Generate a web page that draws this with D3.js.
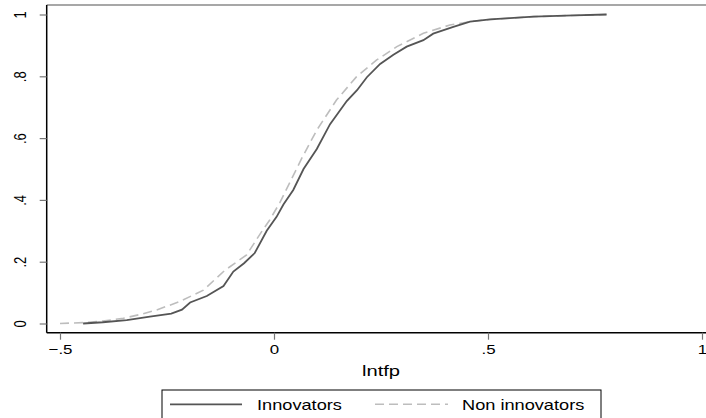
<!DOCTYPE html>
<html>
<head>
<meta charset="utf-8">
<script src="https://cdn.jsdelivr.net/npm/d3@7"></script>
<style>
  body { margin: 0; background: #fff; }
  svg { display: block; font-family: "Liberation Sans", Arial, sans-serif; }
</style>
</head>
<body>
<svg id="chart" width="706" height="418"></svg>
<script>
const innovators = [
  [-0.446, 0], [-0.40, 0.004], [-0.344, 0.011], [-0.29, 0.022], [-0.24, 0.032],
  [-0.215, 0.045], [-0.196, 0.068], [-0.157, 0.089], [-0.118, 0.121], [-0.095, 0.168],
  [-0.07, 0.195], [-0.045, 0.228], [-0.017, 0.30], [0.006, 0.345], [0.022, 0.385],
  [0.045, 0.432], [0.069, 0.50], [0.10, 0.565], [0.131, 0.645], [0.17, 0.72],
  [0.194, 0.755], [0.217, 0.797], [0.248, 0.84], [0.279, 0.87], [0.31, 0.896],
  [0.349, 0.917], [0.372, 0.938], [0.419, 0.96], [0.458, 0.977], [0.505, 0.984],
  [0.551, 0.988], [0.606, 0.993], [0.70, 0.997], [0.777, 1.0]
];
const nonInnovators = [
  [-0.5, 0], [-0.446, 0.003], [-0.40, 0.008], [-0.352, 0.017], [-0.31, 0.03],
  [-0.274, 0.044], [-0.22, 0.071], [-0.165, 0.108], [-0.115, 0.172], [-0.064, 0.222],
  [-0.03, 0.295], [-0.01, 0.335], [0.014, 0.392], [0.04, 0.465], [0.065, 0.535],
  [0.10, 0.626], [0.146, 0.723], [0.193, 0.799], [0.24, 0.853], [0.287, 0.896],
  [0.349, 0.939], [0.411, 0.966], [0.458, 0.977], [0.505, 0.984], [0.551, 0.988],
  [0.606, 0.993], [0.70, 0.997], [0.777, 1.0]
];
const xTicks = [-0.5, 0, 0.5, 1];
const xTickLabels = ["\u2212.5", "0", ".5", "1"];
const yTicks = [0, 0.2, 0.4, 0.6, 0.8, 1];
const yTickLabels = ["0", ".2", ".4", ".6", ".8", "1"];
const seriesNames = ["Innovators", "Non innovators"];

const svg = d3.select("#chart");
const plot = {left: 46.7, right: 706, top: 5, bottom: 332.7};
const stretch = 1.3; // text in the picture is a bit wider than its height suggests

const x = d3.scaleLinear().domain([-0.5, 1]).range([60, 702]);
const y = d3.scaleLinear().domain([0, 1]).range([323.5, 14.5]);

// plot region outline (top only is visible)
svg.append("line")
  .attr("x1", plot.left).attr("x2", plot.right)
  .attr("y1", plot.top).attr("y2", plot.top)
  .attr("stroke", "#8a8a8a").attr("stroke-width", 1.3);

const line = d3.line().x(d => x(d[0])).y(d => y(d[1]));

svg.append("path")
  .datum(nonInnovators)
  .attr("d", line)
  .attr("fill", "none")
  .attr("stroke", "#bdbdbd")
  .attr("stroke-width", 1.6)
  .attr("stroke-dasharray", "9,5");

svg.append("path")
  .datum(innovators)
  .attr("d", line)
  .attr("fill", "none")
  .attr("stroke", "#555")
  .attr("stroke-width", 1.8);

// y axis
const yAxis = svg.append("g")
  .attr("transform", `translate(${plot.left},0)`)
  .call(d3.axisLeft(y).tickValues(yTicks).tickSize(7).tickFormat((d, i) => yTickLabels[i]));
yAxis.select(".domain").attr("d", `M0,${plot.top}V${plot.bottom}`).attr("stroke", "#000").attr("stroke-width", 1.5);
yAxis.selectAll(".tick line").attr("stroke", "#777").attr("stroke-width", 1.2);
yAxis.selectAll(".tick text")
  .attr("x", null).attr("dy", null)
  .attr("transform", `translate(-25,0) scale(${stretch},1) rotate(-90)`)
  .attr("text-anchor", "middle")
  .attr("dominant-baseline", "middle")
  .attr("font-size", 13)
  .attr("fill", "#000");

// x axis
const xAxis = svg.append("g")
  .attr("transform", `translate(0,${plot.bottom})`)
  .call(d3.axisBottom(x).tickValues(xTicks).tickSize(7).tickFormat((d, i) => xTickLabels[i]));
xAxis.select(".domain").attr("d", `M${plot.left},0H${plot.right}`).attr("stroke", "#000").attr("stroke-width", 1.5);
xAxis.selectAll(".tick line").attr("stroke", "#777").attr("stroke-width", 1.2);
xAxis.selectAll(".tick text")
  .attr("y", null).attr("dy", null)
  .attr("transform", `translate(0,21.5) scale(${stretch},1)`)
  .attr("font-size", 13)
  .attr("fill", "#000");

svg.append("text")
  .attr("transform", `translate(381,375.7) scale(${stretch},1)`)
  .attr("text-anchor", "middle")
  .attr("font-size", 15.5)
  .text("lntfp");

// legend
const legend = svg.append("g");
legend.append("rect")
  .attr("x", 162).attr("y", 390)
  .attr("width", 439).attr("height", 40)
  .attr("fill", "#fff").attr("stroke", "#000").attr("stroke-width", 1);

const legendItems = [
  {name: seriesNames[0], x1: 170, x2: 242, tx: 257, color: "#555", dash: null, w: 1.8},
  {name: seriesNames[1], x1: 375, x2: 448, tx: 462, color: "#bdbdbd", dash: "9,5", w: 1.6}
];
legend.selectAll(".item-line").data(legendItems).enter().append("line")
  .attr("x1", d => d.x1).attr("x2", d => d.x2)
  .attr("y1", 404.3).attr("y2", 404.3)
  .attr("stroke", d => d.color)
  .attr("stroke-width", d => d.w)
  .attr("stroke-dasharray", d => d.dash);
legend.selectAll(".item-text").data(legendItems).enter().append("text")
  .attr("transform", d => `translate(${d.tx},410.3) scale(${stretch},1)`)
  .attr("font-size", 14)
  .text(d => d.name);
</script>
</body>
</html>
